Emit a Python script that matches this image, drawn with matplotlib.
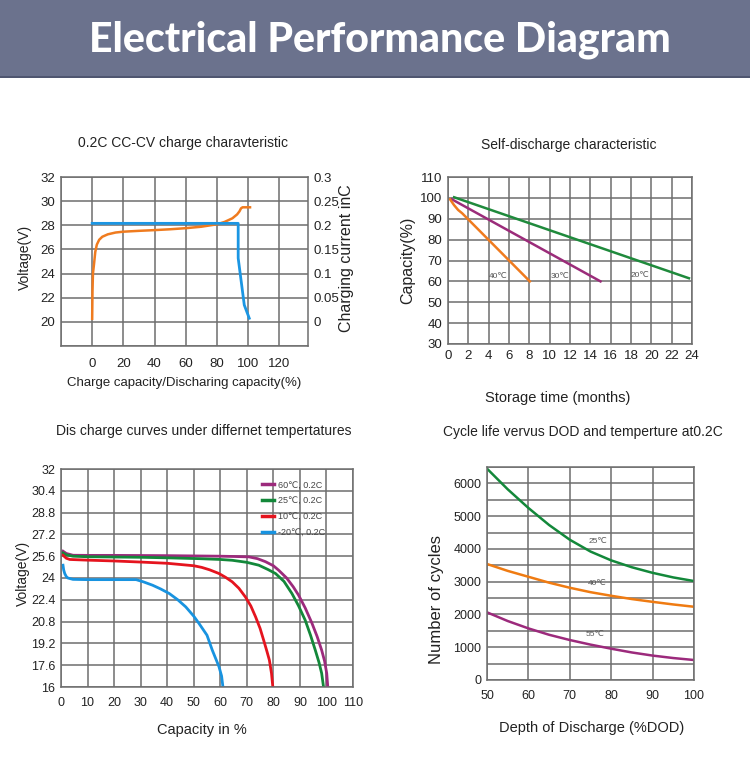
import matplotlib
matplotlib.use("Agg")
import matplotlib.pyplot as plt
from matplotlib.patches import Rectangle

# ---- chart 1: 0.2C CC-CV charge ----
charge_x = [0, 0.2, 0.5, 1.2, 2.0, 3.0, 4.5, 6.5, 10, 15, 20, 30, 40, 50, 60, 70, 80, 85, 90, 93, 94.5, 95.5, 96.5, 101.3]
charge_v = [20.25, 22.5, 24.0, 24.8, 25.8, 26.4, 26.8, 27.05, 27.25, 27.4, 27.47, 27.54, 27.6, 27.67, 27.76, 27.88, 28.08, 28.28, 28.58, 28.9, 29.15, 29.4, 29.49, 29.49]
current_x = [0, 93.7, 93.7, 97.6, 100.8]
current_c = [0.204, 0.204, 0.132, 0.035, 0.0075]

# ---- chart 2: self discharge ----
sd20_t = [0.6, 23.7]
sd20_c = [100.3, 61.5]
sd30_t = [0.35, 15.0]
sd30_c = [99.4, 60]
sd40_t = [0.2, 0.6, 1.0, 1.4, 8.05]
sd40_c = [99.3, 96.5, 94.2, 92.6, 60]

# ---- chart 3: discharge curves ----
d60_x = [0.75, 2, 4.5, 10, 20, 30, 40, 50, 60, 65, 70.8, 74, 77, 80, 82, 85, 87.5, 89.5, 92, 94.5, 96.5, 98.2, 99.3, 100.1, 100.5]
d60_v = [25.97, 25.8, 25.67, 25.66, 25.66, 25.65, 25.64, 25.62, 25.6, 25.58, 25.55, 25.42, 25.2, 24.9, 24.57, 24.0, 23.35, 22.74, 21.8, 20.7, 19.7, 18.7, 17.9, 17.0, 16.0]
d25_x = [0.75, 2, 4.5, 10, 20, 30, 40, 52, 60, 64.5, 70, 74.5, 78, 80.8, 84, 87, 89.5, 92, 94, 95.8, 97.2, 98.2, 98.9]
d25_v = [25.84, 25.7, 25.6, 25.56, 25.54, 25.52, 25.48, 25.42, 25.36, 25.3, 25.15, 24.94, 24.62, 24.33, 23.75, 22.86, 21.95, 20.9, 19.8, 18.7, 17.8, 17.0, 16.0]
d10_x = [0.75, 2, 3.3, 10, 20, 30, 40, 50, 53, 56, 59.5, 62, 64.5, 67, 69.5, 71.5, 73.3, 75, 76.4, 77.6, 78.5, 79.3, 79.8]
d10_v = [25.67, 25.45, 25.36, 25.31, 25.25, 25.17, 25.08, 24.9, 24.78, 24.6, 24.33, 24.05, 23.72, 23.25, 22.6, 21.95, 21.15, 20.3, 19.4, 18.6, 17.97, 17.0, 16.0]
dm20_x = [0.75, 1.0, 1.4, 2.0, 2.6, 4.5, 10, 20, 28.3, 31, 34.5, 37.5, 40.8, 44, 47, 50, 52, 55, 57, 59.5, 60.5, 61]
dm20_v = [24.94, 24.6, 24.33, 24.1, 24.0, 23.9, 23.88, 23.88, 23.88, 23.72, 23.47, 23.2, 22.86, 22.4, 21.88, 21.2, 20.66, 19.8, 18.7, 17.5, 16.8, 16.0]

# ---- chart 4: cycle life ----
dod = [50, 55, 60, 65, 70, 75, 80, 85, 90, 95, 100]
cyc25 = [6450, 5820, 5250, 4730, 4280, 3920, 3650, 3440, 3270, 3130, 3020]
cyc40 = [3540, 3330, 3150, 2970, 2815, 2680, 2570, 2470, 2385, 2305, 2235]
cyc55 = [2065, 1800, 1575, 1380, 1220, 1080, 955, 840, 745, 670, 610]

arial = ['Liberation Sans', 'DejaVu Sans']
gridc = '#6e6e6e'
txtc = '#222222'

W, H = 750, 767
fig = plt.figure(figsize=(7.5, 7.67), dpi=100)
fig.patch.set_facecolor('white')


def box(x0, y0, x1, y1):
    return [x0 / W, 1 - y1 / H, (x1 - x0) / W, (y1 - y0) / H]


def ftext(x, y, s, **kw):
    fig.text(x / W, 1 - y / H, s, ha='center', va='center', color=txtc, family=arial, **kw)


def style(ax, size):
    ax.grid(True, color=gridc, linewidth=1.1)
    ax.set_axisbelow(True)
    for sp in ax.spines.values():
        sp.set_color(gridc)
        sp.set_linewidth(1.1)
    ax.tick_params(length=0, pad=4, labelsize=size, colors=txtc)
    for lab in ax.get_xticklabels() + ax.get_yticklabels():
        lab.set_family(arial)


# header band
fig.patches.append(Rectangle((0, 1 - 77 / H), 1, 77 / H, transform=fig.transFigure,
                             facecolor='#6b728d', edgecolor='none'))
fig.patches.append(Rectangle((0, 1 - 78 / H), 1, 2 / H, transform=fig.transFigure,
                             facecolor='#4f5670', edgecolor='none'))
fig.text(380 / W, 1 - 40 / H, 'Electrical Performance Diagram', ha='center', va='center',
         color='white', fontsize=29.5, fontweight='black', family=['Lato', 'DejaVu Sans'])

# chart 1
ax1 = fig.add_axes(box(61, 177, 308, 346))
ax1.plot(charge_x, charge_v, color='#ef7b1f', linewidth=1.8)
ax1.set_xlim(-20, 138.5)
ax1.set_ylim(18, 32)
ax1.set_xticks([-20, 0, 20, 40, 60, 80, 100, 120])
ax1.set_xticklabels(['', '0', '20', '40', '60', '80', '100', '120'])
ax1.set_yticks([18, 20, 22, 24, 26, 28, 30, 32])
ax1.set_yticklabels(['', '20', '22', '24', '26', '28', '30', '32'])
style(ax1, 9.5)
ax1.tick_params(axis='x', pad=9)
ax1b = ax1.twinx()
ax1b.plot(current_x, current_c, color='#1b96e3', linewidth=2)
ax1b.set_ylim(-0.05, 0.3)
ax1b.set_yticks([0, 0.05, 0.1, 0.15, 0.2, 0.25, 0.3])
ax1b.set_yticklabels(['0', '0.05', '0.1', '0.15', '0.2', '0.25', '0.3'])
ax1b.tick_params(length=0, pad=4, labelsize=9.5, colors=txtc)
for lab in ax1b.get_yticklabels():
    lab.set_family(arial)
for sp in ax1b.spines.values():
    sp.set_visible(False)
ftext(183, 143, '0.2C CC-CV charge charavteristic', fontsize=10)
ftext(184, 383, 'Charge capacity/Discharing capacity(%)', fontsize=9.5)
ftext(25, 257, 'Voltage(V)', fontsize=10, rotation=90)
ftext(347, 258, 'Charging current inC', fontsize=11.5, rotation=90)

# chart 2
ax2 = fig.add_axes(box(448, 177, 692, 344))
ax2.plot(sd20_t, sd20_c, color='#1f8a3c', linewidth=1.8)
ax2.plot(sd30_t, sd30_c, color='#9b2c7a', linewidth=1.8)
ax2.plot(sd40_t, sd40_c, color='#ef7b1f', linewidth=1.8)
ax2.set_xlim(0, 24)
ax2.set_ylim(30, 110)
ax2.set_xticks(range(0, 25, 2))
ax2.set_yticks(range(30, 111, 10))
style(ax2, 9.5)
ax2.text(4.9, 62.4, '40℃', fontsize=6, color='#555555', ha='center', va='center', family=arial)
ax2.text(11, 62.4, '30℃', fontsize=6, color='#555555', ha='center', va='center', family=arial)
ax2.text(18.9, 63, '20℃', fontsize=6, color='#555555', ha='center', va='center', family=arial)
ftext(569, 145, 'Self-discharge characteristic', fontsize=10)
ftext(558, 398, 'Storage time (months)', fontsize=10.5)
ftext(408, 260, 'Capacity(%)', fontsize=11.5, rotation=90)

# chart 3
ax3 = fig.add_axes(box(61, 469, 353, 687))
ax3.plot(d60_x, d60_v, color='#9c2a7c', linewidth=2, label='60℃, 0.2C')
ax3.plot(d25_x, d25_v, color='#13883a', linewidth=2, label='25℃, 0.2C')
ax3.plot(d10_x, d10_v, color='#e5141e', linewidth=2, label='10℃, 0.2C')
ax3.plot(dm20_x, dm20_v, color='#1893e0', linewidth=2, label='-20℃, 0.2C')
ax3.set_xlim(0, 109)
ax3.set_ylim(16, 32)
ax3.set_xticks(range(0, 111, 10))
ax3.set_yticks([16, 17.6, 19.2, 20.8, 22.4, 24, 25.6, 27.2, 28.8, 30.4, 32])
ax3.set_yticklabels(['16', '17.6', '19.2', '20.8', '22.4', '24', '25.6', '27.2', '28.8', '30.4', '32'])
style(ax3, 9)
ax3.tick_params(axis='x', pad=7)
leg = ax3.legend(loc='upper left', bbox_to_anchor=(0.66, 0.985), frameon=False,
                 handlelength=1.4, handletextpad=0.4, labelspacing=0.75,
                 prop={'family': arial, 'size': 6.5})
for t in leg.get_texts():
    t.set_color('#444444')
for l in leg.get_lines():
    l.set_linewidth(2.5)
ftext(204, 431, 'Dis charge curves under differnet tempertatures', fontsize=10)
ftext(202, 730, 'Capacity in %', fontsize=10.5)
ftext(23, 573, 'Voltage(V)', fontsize=10, rotation=90)

# chart 4
ax4 = fig.add_axes(box(487, 467, 694, 680))
ax4.plot(dod, cyc25, color='#13883a', linewidth=1.8)
ax4.plot(dod, cyc40, color='#ef7b12', linewidth=1.8)
ax4.plot(dod, cyc55, color='#9c2a7c', linewidth=1.8)
ax4.set_xlim(50, 100)
ax4.set_ylim(0, 6500)
ax4.set_xticks(range(50, 101, 10))
ax4.set_yticks(range(0, 6501, 500))
ax4.set_yticklabels([str(v) if v % 1000 == 0 else '' for v in range(0, 6501, 500)])
style(ax4, 9)
ax4.tick_params(axis='x', pad=7)
ax4.text(76.7, 4235, '25℃', fontsize=6, color='#555555', ha='center', va='center', family=arial)
ax4.text(76.7, 2945, '40℃', fontsize=6, color='#555555', ha='center', va='center', family=arial)
ax4.text(76.1, 1391, '55℃', fontsize=6, color='#555555', ha='center', va='center', family=arial)
ftext(583, 432, 'Cycle life vervus DOD and temperture at0.2C', fontsize=10)
ftext(592, 728, 'Depth of Discharge (%DOD)', fontsize=10.5)
ftext(437, 600, 'Number of cycles', fontsize=12, rotation=90)

fig.savefig('out.png', dpi=100)
